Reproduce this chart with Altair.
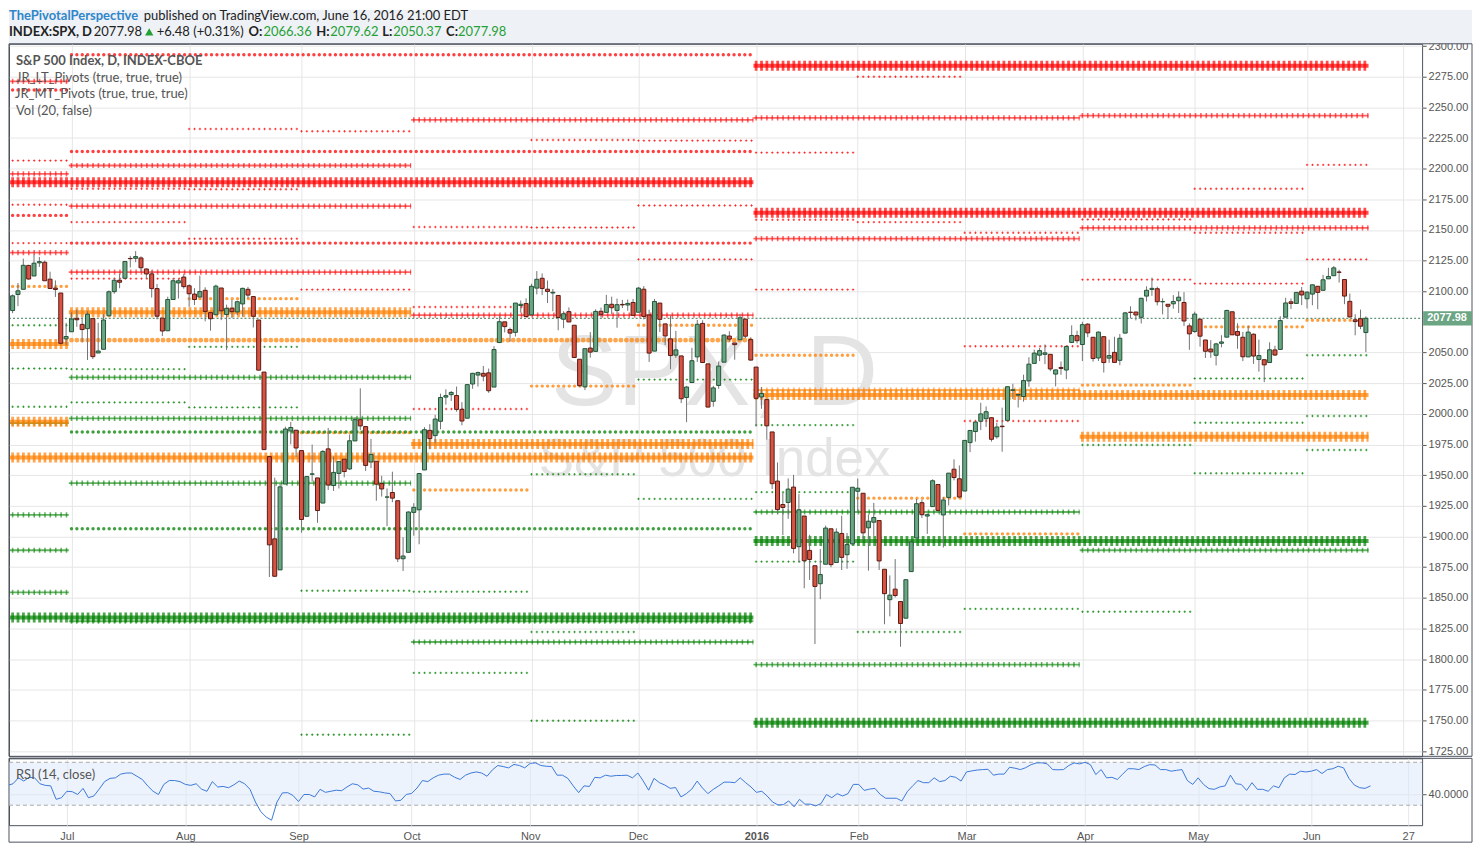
import altair as alt
import pandas as pd

# ---------------- layout constants (pixels) ----------------
W, H, HR = 1416, 714, 67
XMIN, XMAX = 0.256, 262.58
YMIN, YMAX = 1720.75, 2301.86
RMIN, RMAX = 11.4, 73.7
P = W / (XMAX - XMIN)          # pixels per bar

# ---------------- data ----------------
opens = [
 2084.3, 2097.4, 2101.6, 2121.1, 2112.5, 2123.2, 2123.7, 2109.9, 2102.6, 2098.6, 2061.2,
 2067.0, 2078.0, 2073.0, 2069.5, 2077.7, 2049.7, 2052.7, 2080.0, 2099.7, 2109.0, 2110.6, 2126.8, 2126.9, 2127.2, 2118.2, 2114.2, 2102.2, 2078.2, 2067.8, 2093.3, 2106.8, 2111.6,
 2104.5, 2097.7, 2095.3, 2100.8, 2082.6, 2080.9, 2102.7, 2081.1, 2086.2, 2083.2, 2089.7, 2101.6, 2095.7, 2076.6, 2034.1, 1965.2, 1898.1, 1872.8, 1942.8, 1986.1, 1986.7,
 1970.1, 1916.5, 1950.8, 1947.8, 1927.3, 1971.5, 1941.6, 1951.5, 1963.1, 1955.1, 1978.0, 1995.3, 1989.7, 1960.8, 1961.4, 1943.2, 1932.2, 1935.9, 1929.2, 1881.9, 1887.1,
 1919.7, 1921.8, 1954.3, 1986.6, 1982.3, 1994.0, 2013.7, 2015.7, 2015.0, 2003.7, 1996.5, 2024.4, 2031.7, 2033.1, 2033.5, 2021.9, 2058.2, 2075.1, 2068.8, 2066.5, 2088.4, 2090.0,
 2080.8, 2102.6, 2110.6, 2101.7, 2098.6, 2096.6, 2077.2, 2083.4, 2072.3, 2044.6, 2022.1, 2053.7, 2051.0, 2083.7, 2082.8, 2089.4, 2084.4, 2089.3, 2088.8, 2090.9,
 2082.9, 2101.7, 2080.7, 2051.2, 2090.4, 2073.4, 2061.2, 2047.9, 2047.3, 2013.4, 2025.6, 2046.5, 2073.8, 2040.8, 2010.3, 2023.2, 2042.2, 2063.5, 2057.8, 2060.5, 2077.3, 2060.6,
 2038.2, 2013.8, 2011.7, 1985.3, 1945.2, 1926.1, 1927.8, 1940.3, 1891.7, 1916.7, 1888.7, 1876.2, 1861.5, 1877.4, 1906.3, 1878.8, 1902.5, 1885.2, 1894.0,
 1936.9, 1935.3, 1907.1, 1911.7, 1913.1, 1873.3, 1848.5, 1857.1, 1847.0, 1833.4, 1871.4, 1898.8, 1927.6, 1916.7, 1924.4, 1942.4, 1917.6, 1931.9, 1954.9, 1947.1,
 1937.1, 1976.6, 1985.6, 1994.0, 1996.1, 1996.9, 1981.4, 1990.0, 1994.7, 2019.3, 2015.3, 2014.2, 2026.9, 2041.2, 2047.9, 2048.6, 2048.6, 2032.5, 2037.9, 2035.8, 2058.3, 2063.8,
 2056.6, 2073.2, 2062.5, 2045.6, 2063.0, 2045.5, 2050.2, 2043.7, 2065.9, 2082.9, 2083.1, 2078.8, 2096.1, 2101.5, 2102.1, 2091.5, 2089.4, 2089.8, 2092.3, 2090.9, 2071.8,
 2067.2, 2077.2, 2060.3, 2052.9, 2047.8, 2057.6, 2062.6, 2083.3, 2067.2, 2062.5, 2046.5, 2065.0, 2044.4, 2044.2, 2041.9, 2052.2, 2052.6, 2078.9, 2091.4, 2090.1, 2100.1,
 2093.9, 2097.7, 2104.1, 2100.8, 2110.2, 2112.7, 2115.7, 2109.6, 2091.8, 2076.7, 2077.6, 2066.36,
]
highs = [
 2097.4, 2106.8, 2126.6, 2121.6, 2129.9, 2128.0, 2125.1, 2116.0, 2108.9, 2098.6, 2074.3,
 2082.8, 2085.1, 2078.6, 2083.7, 2077.7, 2074.3, 2081.3, 2100.7, 2111.0, 2114.1, 2124.4, 2128.9, 2132.8, 2128.5, 2118.5, 2116.9, 2106.0, 2078.2, 2095.6, 2110.6, 2110.5, 2114.2,
 2105.7, 2102.5, 2112.7, 2103.3, 2082.6, 2105.4, 2102.7, 2089.1, 2092.9, 2092.4, 2102.9, 2103.5, 2096.2, 2076.6, 2034.1, 1965.2, 1948.0, 1943.1, 1989.6, 1993.5, 1986.7,
 1970.1, 1948.9, 1975.0, 1947.8, 1970.4, 1988.6, 1965.3, 1961.1, 1963.1, 1983.2, 1997.3, 2020.9, 1989.7, 1979.6, 1961.4, 1949.5, 1939.2, 1952.9, 1929.2, 1899.5, 1920.5,
 1927.2, 1951.4, 1989.2, 1991.6, 1999.3, 2016.5, 2020.1, 2018.7, 2022.3, 2009.6, 2024.2, 2033.5, 2034.5, 2039.1, 2037.0, 2055.2, 2079.7, 2075.1, 2070.4, 2090.4, 2092.5, 2094.3,
 2106.2, 2116.5, 2114.6, 2108.8, 2101.9, 2096.6, 2083.7, 2086.9, 2072.3, 2044.6, 2053.2, 2066.7, 2085.3, 2086.7, 2097.1, 2095.6, 2094.1, 2093.0, 2093.3, 2093.8,
 2103.4, 2104.3, 2085.0, 2093.8, 2090.4, 2073.4, 2080.3, 2067.7, 2047.3, 2022.9, 2053.9, 2076.7, 2076.4, 2040.8, 2022.9, 2042.7, 2064.7, 2067.4, 2057.8, 2081.6, 2077.3, 2062.5,
 2038.2, 2021.9, 2011.7, 1985.3, 1960.4, 1935.7, 1947.4, 1950.3, 1934.5, 1916.7, 1901.4, 1876.2, 1889.9, 1908.9, 1906.3, 1906.7, 1916.9, 1902.9, 1940.2,
 1947.2, 1935.3, 1918.0, 1927.4, 1913.1, 1873.3, 1868.3, 1881.6, 1847.0, 1864.8, 1895.8, 1930.7, 1930.0, 1918.8, 1946.7, 1942.4, 1932.1, 1951.8, 1962.9, 1958.0,
 1978.4, 1986.5, 1993.7, 2009.1, 2006.1, 1996.9, 1992.7, 2005.1, 2022.4, 2024.6, 2015.9, 2032.0, 2046.2, 2052.4, 2053.9, 2056.6, 2048.6, 2036.0, 2042.7, 2055.9, 2072.2, 2067.9,
 2075.1, 2074.0, 2062.5, 2067.3, 2063.0, 2060.6, 2062.9, 2065.1, 2083.2, 2087.8, 2083.2, 2094.7, 2104.1, 2111.1, 2103.8, 2094.3, 2089.4, 2096.9, 2099.9, 2099.3, 2073.9,
 2083.4, 2077.2, 2060.3, 2060.2, 2058.0, 2064.2, 2084.9, 2083.3, 2073.9, 2066.8, 2071.9, 2065.7, 2060.6, 2044.2, 2058.4, 2055.6, 2079.7, 2094.7, 2094.1, 2099.1, 2103.5,
 2100.0, 2105.3, 2104.1, 2113.4, 2119.2, 2120.6, 2117.6, 2109.6, 2098.1, 2081.3, 2085.1, 2079.62,
]
lows = [
 2082.1, 2087.9, 2101.6, 2109.5, 2112.5, 2119.9, 2108.6, 2101.8, 2095.4, 2056.6, 2056.3,
 2067.0, 2071.0, 2058.4, 2044.0, 2044.7, 2049.7, 2052.7, 2080.0, 2098.0, 2102.5, 2110.6, 2119.4, 2123.7, 2115.4, 2110.0, 2094.9, 2077.1, 2063.5, 2067.8, 2093.3, 2094.1, 2102.1,
 2087.3, 2088.8, 2095.3, 2075.5, 2067.9, 2080.9, 2076.5, 2052.1, 2078.3, 2080.6, 2079.3, 2094.1, 2070.5, 2035.7, 1970.9, 1867.0, 1867.1, 1872.8, 1942.8, 1975.2, 1965.0,
 1903.1, 1916.5, 1944.7, 1911.2, 1927.3, 1937.9, 1937.2, 1939.2, 1948.3, 1954.3, 1977.9, 1986.7, 1953.5, 1955.8, 1929.2, 1932.6, 1908.5, 1928.0, 1879.2, 1871.9, 1887.1,
 1900.7, 1893.7, 1954.3, 1971.2, 1976.4, 1987.5, 2007.6, 2010.6, 2001.8, 1990.7, 1996.5, 2020.5, 2022.3, 2026.6, 2017.2, 2021.9, 2058.2, 2066.5, 2058.8, 2063.1, 2082.6, 2079.3,
 2080.8, 2097.5, 2096.9, 2090.4, 2083.7, 2068.2, 2069.9, 2074.9, 2045.7, 2022.0, 2019.4, 2045.9, 2051.0, 2078.8, 2082.8, 2081.4, 2070.3, 2086.3, 2084.1, 2080.4,
 2082.9, 2077.1, 2042.4, 2051.2, 2066.8, 2056.2, 2036.5, 2045.7, 2008.8, 1993.3, 2025.6, 2042.4, 2041.7, 2005.3, 2005.9, 2020.5, 2042.2, 2058.7, 2044.2, 2060.5, 2061.9, 2043.6,
 1989.7, 2004.2, 1979.1, 1938.8, 1918.5, 1901.1, 1914.4, 1886.3, 1878.9, 1857.8, 1864.6, 1812.3, 1848.9, 1877.4, 1875.0, 1878.8, 1872.7, 1873.7, 1894.0,
 1920.3, 1897.3, 1872.2, 1900.5, 1872.7, 1828.5, 1834.9, 1850.3, 1810.1, 1833.4, 1871.4, 1898.8, 1915.1, 1902.2, 1924.4, 1919.4, 1891.0, 1925.4, 1945.8, 1931.8,
 1937.1, 1968.8, 1977.4, 1986.8, 1989.4, 1977.4, 1979.8, 1969.2, 1994.7, 2012.1, 2005.2, 2010.0, 2022.2, 2041.2, 2043.1, 2040.6, 2034.9, 2022.5, 2031.9, 2028.3, 2058.3, 2057.5,
 2043.1, 2062.6, 2042.6, 2043.1, 2033.8, 2041.7, 2041.9, 2039.7, 2065.9, 2078.1, 2076.3, 2073.7, 2091.7, 2096.3, 2088.5, 2081.2, 2077.5, 2085.8, 2082.3, 2071.6, 2052.3,
 2066.1, 2054.9, 2045.6, 2045.8, 2039.5, 2054.3, 2062.6, 2064.5, 2053.1, 2043.1, 2046.5, 2040.8, 2034.5, 2025.9, 2041.9, 2047.3, 2052.6, 2078.9, 2085.6, 2090.1, 2088.7,
 2086.0, 2088.6, 2085.4, 2100.8, 2110.2, 2112.7, 2107.1, 2089.5, 2078.5, 2064.1, 2069.1, 2050.37,
]
closes = [
 2096.3, 2100.4, 2121.2, 2110.0, 2122.9, 2124.2, 2108.6, 2102.3, 2101.5, 2057.6, 2063.1,
 2077.4, 2076.8, 2068.8, 2081.3, 2046.7, 2051.3, 2076.6, 2099.6, 2109.0, 2107.4, 2124.3, 2126.6, 2128.3, 2119.2, 2114.2, 2102.2, 2079.7, 2067.6, 2093.3, 2108.6, 2108.6, 2103.8,
 2098.0, 2093.3, 2099.8, 2083.6, 2077.6, 2104.2, 2084.1, 2086.1, 2083.4, 2091.5, 2102.4, 2096.9, 2079.6, 2035.7, 1970.9, 1893.2, 1867.6, 1940.5, 1987.7, 1988.9, 1972.2,
 1913.9, 1948.9, 1951.1, 1921.2, 1969.4, 1942.0, 1952.3, 1961.1, 1953.0, 1978.1, 1995.3, 1990.2, 1958.0, 1967.0, 1942.7, 1938.8, 1932.2, 1931.3, 1881.8, 1884.1, 1920.0,
 1923.8, 1951.4, 1987.1, 1979.9, 1995.8, 2013.4, 2014.9, 2017.5, 2003.7, 1994.2, 2023.9, 2033.1, 2033.7, 2030.8, 2018.9, 2052.5, 2075.2, 2071.2, 2065.9, 2090.4, 2089.4, 2079.4,
 2104.1, 2109.8, 2102.3, 2099.9, 2099.2, 2078.6, 2081.7, 2075.0, 2046.0, 2023.0, 2053.2, 2050.4, 2083.6, 2081.2, 2089.2, 2086.6, 2089.1, 2088.9, 2090.1, 2080.4,
 2102.6, 2079.5, 2049.6, 2091.7, 2077.1, 2063.6, 2047.6, 2052.2, 2012.4, 2021.9, 2043.4, 2073.1, 2041.9, 2005.6, 2021.2, 2039.0, 2064.3, 2061.0, 2056.5, 2078.4, 2063.4, 2043.9,
 2012.7, 2016.7, 1990.3, 1943.1, 1922.0, 1923.7, 1938.7, 1890.3, 1921.8, 1880.3, 1881.3, 1859.3, 1869.0, 1906.9, 1877.1, 1903.6, 1883.0, 1893.4, 1940.2,
 1939.4, 1903.0, 1912.5, 1915.5, 1880.1, 1853.4, 1852.2, 1851.9, 1829.1, 1864.8, 1895.6, 1926.8, 1917.8, 1917.8, 1945.5, 1921.3, 1929.8, 1951.7, 1948.1, 1932.2,
 1978.4, 1986.5, 1993.4, 2000.0, 2001.8, 1979.3, 1989.3, 1989.6, 2022.2, 2019.6, 2015.9, 2027.2, 2040.6, 2049.6, 2051.6, 2049.8, 2036.7, 2035.9, 2037.1, 2055.0, 2064.0, 2059.7,
 2072.8, 2066.1, 2045.2, 2066.7, 2041.9, 2047.6, 2042.0, 2061.7, 2082.4, 2082.8, 2080.7, 2094.3, 2100.8, 2102.4, 2091.5, 2091.6, 2087.8, 2091.7, 2095.2, 2075.8, 2065.3,
 2081.4, 2063.4, 2051.1, 2050.6, 2057.1, 2058.7, 2084.4, 2064.5, 2064.1, 2046.6, 2066.7, 2047.2, 2047.6, 2040.0, 2052.3, 2048.0, 2076.1, 2090.5, 2090.1, 2099.1, 2097.0,
 2099.3, 2105.3, 2099.1, 2109.4, 2112.1, 2119.1, 2115.5, 2096.1, 2079.1, 2075.3, 2071.5, 2077.98,
]
rsi = [
 48.5, 50, 55.5, 52.5, 56, 55.5, 50, 48.5, 48, 35.5, 37,
 43, 42.6, 40, 45.7, 37, 38.6, 45, 52, 55, 55.5, 59, 60, 60, 57, 54, 48, 43, 40, 49.4, 53, 53, 52,
 49.4, 48.5, 50, 45, 43, 52, 47, 47.5, 46.3, 49, 52.5, 50, 44.8, 33, 24, 19, 16, 33, 41.5, 41.7, 39,
 33.4, 40, 40, 37.7, 44.8, 42, 43, 44, 43.5, 47, 50, 49, 45, 46, 43, 42.5, 41.5, 40.8, 34, 34.6, 40,
 41, 46, 53, 52, 55.5, 58, 59, 59, 56, 54, 58, 60, 61, 60, 57, 63, 67, 66, 64.8, 68, 67, 64.8,
 69, 69.4, 67, 66.3, 66, 58, 58, 55, 48, 41.7, 48, 47.5, 56, 55.5, 58, 57, 57.7, 57.7, 58, 55.5,
 60, 52.5, 44, 55, 51, 48.8, 45.7, 46.5, 37.7, 40.8, 45, 52.5, 46, 40.8, 44.8, 48, 51.5, 51.5, 51, 55.5, 51, 47,
 42, 43, 38.6, 33, 30.3, 30.5, 34, 28.5, 35.5, 31, 31, 29.4, 31.5, 40, 37, 40.8, 38.6, 40.8, 49.4,
 49.4, 43.8, 45, 45.7, 40, 36.5, 36.5, 36.5, 34, 42.6, 48, 53, 51, 51, 55.5, 52, 53, 57, 56, 52.5,
 61, 62, 62.8, 63.2, 63.5, 58, 59, 59, 65.4, 64.5, 63.2, 65, 67.8, 69.4, 69.5, 68.5, 63.2, 63, 63.2, 67, 69.4, 68.5,
 70, 67.8, 58.6, 63.2, 55.5, 56, 54, 59, 64, 64, 63.2, 66, 67.8, 67.5, 63.2, 63.2, 61.7, 62.5, 63.2, 53, 49.4,
 55.5, 49.4, 45.5, 44.8, 47, 48, 58, 50, 49.4, 43.8, 51, 44.8, 44.8, 43, 48, 46.3, 55.5, 59, 58.6, 61.7, 61,
 61.7, 63.2, 59.5, 63.2, 64, 66.3, 64.8, 55, 48.8, 46.3, 45.7, 48,
]

tick_idx = [11, 33, 54, 75, 97, 117, 139, 158, 178, 200, 221, 242, 260]
tick_lab = ["Jul", "Aug", "Sep", "Oct", "Nov", "Dec", "2016", "Feb", "Mar", "Apr", "May", "Jun", "27"]
price_ticks = [1725, 1750, 1775, 1800, 1825, 1850, 1875, 1900, 1925, 1950, 1975, 2000, 2025,
               2050, 2100, 2125, 2150, 2175, 2200, 2225, 2250, 2275, 2300]

# bar-index ranges of the pivot periods
PERIODS = {
    'Jun15': (0, 10), 'Jul15': (11, 32), 'Aug15': (33, 53), 'Sep15': (54, 74), 'Oct15': (75, 96),
    'Nov15': (97, 116), 'Dec15': (117, 138), 'Jan16': (139, 157), 'Feb16': (158, 177),
    'Mar16': (178, 199), 'Apr16': (200, 220), 'May16': (221, 241), 'Jun16': (242, 253),
    'Q3': (11, 74), 'Q4': (75, 138), 'Q1': (139, 199), 'Q2': (200, 253),
    'H2': (11, 138), 'H2x': (0, 138), 'H1': (139, 253),
}

red_pivots = [
 ('Jun15', 2271.2, 'cross'), ('Jun15', 2264.2, 'dot'), ('Jun15', 2206.6, 'thin'), ('Jun15', 2195.8, 'cross'),
 ('Jun15', 2170.6, 'thin'), ('Jun15', 2161.9, 'dot'), ('Jun15', 2139.3, 'thin'), ('Jun15', 2131.5, 'cross'),
 ('H2x', 2189.0, 'thick'),
 ('H2', 2292.9, 'dot'), ('H2', 2214.0, 'dot'), ('H2', 2139.3, 'dot'),
 ('Q3', 2202.6, 'cross'), ('Q3', 2169.4, 'cross'), ('Q3', 2115.7, 'cross'),
 ('Q4', 2239.8, 'cross'), ('Q4', 2080.5, 'cross'),
 ('Jul15', 2183.6, 'thin'), ('Jul15', 2156.4, 'thin'), ('Jul15', 2110.3, 'thin'),
 ('Aug15', 2232.4, 'thin'), ('Aug15', 2183.2, 'thin'), ('Aug15', 2142.9, 'thin'),
 ('Sep15', 2230.5, 'thin'), ('Sep15', 2101.4, 'thin'),
 ('Oct15', 2152.4, 'thin'), ('Oct15', 2087.2, 'thin'), ('Oct15', 2004.0, 'thin'),
 ('Nov15', 2223.4, 'thin'), ('Nov15', 2152.0, 'thin'),
 ('Dec15', 2222.9, 'thin'), ('Dec15', 2170.0, 'thin'), ('Dec15', 2126.0, 'thin'),
 ('H1', 2284.0, 'thick'), ('H1', 2164.0, 'thick'),
 ('Q1', 2241.4, 'cross'), ('Q1', 2142.9, 'cross'),
 ('Q2', 2243.3, 'cross'), ('Q2', 2151.8, 'cross'),
 ('Jan16', 2213.1, 'thin'), ('Jan16', 2158.3, 'thin'), ('Jan16', 2101.4, 'thin'),
 ('Feb16', 2275.0, 'thin'), ('Feb16', 2156.4, 'thin'),
 ('Mar16', 2147.7, 'thin'), ('Mar16', 2055.2, 'thin'), ('Mar16', 1994.2, 'thin'),
 ('Apr16', 2158.6, 'thin'), ('Apr16', 2109.5, 'thin'),
 ('May16', 2183.6, 'thin'), ('May16', 2147.7, 'thin'), ('May16', 2106.3, 'thin'),
 ('Jun16', 2203.1, 'thin'), ('Jun16', 2126.0, 'thin'),
]
orange_pivots = [
 ('Jun15', 2104.0, 'dot'), ('Jun15', 2057.0, 'thick'), ('Jun15', 1993.6, 'thick'),
 ('H2x', 1964.5, 'thick'), ('H2', 2060.1, 'dotL'),
 ('Q3', 2083.0, 'thick'), ('Q4', 1975.5, 'thick'),
 ('Aug15', 2094.0, 'dot'), ('Sep15', 1984.7, 'dot'), ('Oct15', 1938.0, 'dot'),
 ('Nov15', 2022.7, 'dot'), ('Dec15', 2072.3, 'dot'),
 ('H1', 2015.5, 'thick'), ('Q1', 2019.5, 'cross'), ('Q2', 1981.4, 'thick'),
 ('Jan16', 2047.9, 'dot'), ('Feb16', 1931.3, 'dot'), ('Mar16', 1902.2, 'dot'),
 ('Apr16', 2023.5, 'dot'), ('May16', 2071.0, 'dot'), ('Jun16', 2076.4, 'dot'),
]
green_pivots = [
 ('Jun15', 2072.3, 'thin'), ('Jun15', 2037.0, 'thin'), ('Jun15', 2005.8, 'thin'), ('Jun15', 1992.5, 'cross'),
 ('Jun15', 1917.7, 'cross'), ('Jun15', 1888.8, 'cross'), ('Jun15', 1854.4, 'cross'),
 ('H2x', 1834.0, 'thick'),
 ('H2', 1985.2, 'dot'), ('H2', 1906.3, 'dot'), ('H2', 1830.9, 'cross'),
 ('Q3', 2029.8, 'cross'), ('Q3', 1996.3, 'cross'), ('Q3', 1943.5, 'cross'),
 ('Q4', 1814.0, 'cross'),
 ('Jul15', 2036.5, 'thin'), ('Jul15', 2009.4, 'thin'),
 ('Aug15', 2054.7, 'thin'), ('Aug15', 2005.3, 'thin'),
 ('Sep15', 1855.8, 'thin'), ('Sep15', 1738.4, 'thin'),
 ('Oct15', 1855.0, 'thin'), ('Oct15', 1788.8, 'thin'),
 ('Nov15', 1950.8, 'thin'), ('Nov15', 1822.2, 'thin'), ('Nov15', 1749.8, 'thin'),
 ('Dec15', 2028.0, 'thin'), ('Dec15', 1930.7, 'thin'),
 ('H1', 1896.3, 'thick'), ('H1', 1748.2, 'thick'),
 ('Q1', 1920.0, 'cross'), ('Q1', 1795.6, 'cross'),
 ('Q2', 1888.8, 'cross'),
 ('Jan16', 1990.9, 'thin'), ('Jan16', 1936.2, 'thin'), ('Jan16', 1879.5, 'thin'),
 ('Feb16', 1822.2, 'thin'),
 ('Mar16', 1841.0, 'thin'),
 ('Apr16', 1974.7, 'thin'), ('Apr16', 1838.7, 'thin'),
 ('May16', 2028.9, 'thin'), ('May16', 1992.8, 'thin'), ('May16', 1951.6, 'thin'),
 ('Jun16', 2047.9, 'thin'), ('Jun16', 1998.3, 'thin'), ('Jun16', 1970.6, 'thin'),
]

# ---------------- tables ----------------
n = min(len(opens), len(highs), len(lows), len(closes))
bars = pd.DataFrame({'i': list(range(n)), 'o': opens[:n], 'h': highs[:n], 'l': lows[:n], 'c': closes[:n]})
bars['dir'] = ['up' if c >= o else 'down' for o, c in zip(bars['o'], bars['c'])]
last = bars.tail(1).reset_index(drop=True)
rsi_df = pd.DataFrame({'i': list(range(len(rsi))), 'r': rsi})

rows = []
for colname, lst in (('red', red_pivots), ('orange', orange_pivots), ('green', green_pivots)):
    for per, price, sty in lst:
        s, e = PERIODS[per]
        rows.append({'s0': s - 0.5, 'e1': e + 0.5, 'p': price, 'col': colname, 'sty': sty})
piv = pd.DataFrame(rows)
one = pd.DataFrame({'k': [0]})

# ---------------- scales / axes ----------------
LBL = dict(labelColor='#555555', labelFont='Liberation Sans', labelFontSize=11)
xscale = alt.Scale(domain=[XMIN, XMAX], nice=False, zero=False)
yscale = alt.Scale(domain=[YMIN, YMAX], nice=False, zero=False)
rscale = alt.Scale(domain=[RMIN, RMAX], nice=False, zero=False)
xaxis = alt.Axis(values=tick_idx, grid=True, gridColor='#e6e6e6', labels=False, ticks=False,
                 domain=False, title=None)
yaxis = alt.Axis(orient='right', values=price_ticks, format='.2f', grid=True,
                 gridColor='#e6e6e6', tickColor='#555555', tickSize=4, labelPadding=2,
                 domain=False, title=None, labelOverlap=False, labelFlush=False, **LBL)
expr = " : ".join(f"datum.value == {v} ? '{l}'" for v, l in zip(tick_idx, tick_lab)) + " : ''"
rxaxis = alt.Axis(values=tick_idx, labelExpr=expr, grid=True, gridColor='#e6e6e6', ticks=False,
                  domain=False, title=None, labelPadding=5, labelFlush=False, labelOverlap=False,
                  labelFontWeight={'condition': {'test': 'datum.value == 139', 'value': 'bold'},
                                   'value': 'normal'},
                  **LBL)
ryaxis = alt.Axis(orient='right', values=[40], format='.4f', grid=True, gridColor='#e6e6e6',
                  tickColor='#555555', tickSize=4, labelPadding=2, domain=False, title=None, **LBL)


def X(f):
    return alt.X(f, type='quantitative', scale=xscale, axis=xaxis)


def Y(f):
    return alt.Y(f, type='quantitative', scale=yscale, axis=yaxis)


def RX(f):
    return alt.X(f, type='quantitative', scale=xscale, axis=rxaxis)


def RY(f):
    return alt.Y(f, type='quantitative', scale=rscale, axis=ryaxis)


pcolor = alt.Color('col:N', scale=alt.Scale(domain=['red', 'orange', 'green'],
                                            range=['#ff0000', '#ff7f00', '#008000']), legend=None)


def piv_layer(sty, width, dash=None, cap=None, opacity=0.7):
    kw = dict(strokeWidth=width, opacity=opacity, clip=True)
    if dash is not None:
        kw['strokeDash'] = dash
        kw['strokeDashOffset'] = P / 2 + dash[0] / 2
    if cap is not None:
        kw['strokeCap'] = cap
    return (alt.Chart(piv).transform_filter(alt.datum.sty == sty).mark_rule(**kw)
            .encode(x=X('s0:Q'), x2='e1:Q', y=Y('p:Q'), color=pcolor))


def txt(s, x, y, size=13, weight='normal', color='#555555', font='Lato', align='left'):
    return (alt.Chart(one).mark_text(text=s, font=font, fontSize=size, fontWeight=weight,
                                     color=color, align=align, baseline='alphabetic')
            .encode(x=alt.value(x), y=alt.value(y)))


# ---------------- main panel ----------------
HY1, HY2 = -24, -7.5
layers = [
    alt.Chart(one).mark_rect(color='#eef1f6').encode(
        x=alt.value(0), x2=alt.value(W + 50), y=alt.value(-34), y2=alt.value(0)),
    alt.Chart(one).mark_rect(fillOpacity=0, stroke='#4c525e', strokeWidth=1).encode(
        x=alt.value(0), x2=alt.value(W + 50), y=alt.value(0), y2=alt.value(H)),
    txt('SPX, D', 707, 362, size=100, color='#e4e4e4', font='Liberation Sans', align='center'),
    txt('S&P 500 Index', 707, 433, size=53, color='#e4e4e4', font='Liberation Sans', align='center'),
    # pivots
    piv_layer('thin', 0.9, [2.4, P - 2.4], opacity=0.75),
    piv_layer('thin', 2.4, [0.9, P - 0.9], opacity=0.75),
    piv_layer('dot', 3.4, [0.01, P - 0.01], cap='round', opacity=0.75),
    piv_layer('dotL', 4.8, [0.01, P - 0.01], cap='round', opacity=0.7),
    piv_layer('cross', 1.8, opacity=0.6),
    piv_layer('cross', 5.2, [1.6, P - 1.6], opacity=0.6),
    piv_layer('thick', 4, opacity=0.7),
    piv_layer('thick', 10, [2.8, P - 2.8], opacity=0.7),
    # last price line
    alt.Chart(last).mark_rule(strokeDash=[2, 2], color='#3d7a58', strokeWidth=1).encode(
        x=alt.value(0), x2=alt.value(W), y=Y('c:Q')),
    # candles
    alt.Chart(bars).mark_rule(color='#737375', strokeWidth=1, clip=True).encode(
        x=X('i:Q'), y=Y('l:Q'), y2='h:Q'),
    alt.Chart(bars).mark_bar(size=4, strokeWidth=1, clip=True).encode(
        x=X('i:Q'), y=Y('o:Q'), y2='c:Q',
        fill=alt.Fill('dir:N', scale=alt.Scale(domain=['up', 'down'], range=['#6ba583', '#d75442']), legend=None),
        stroke=alt.Stroke('dir:N', scale=alt.Scale(domain=['up', 'down'], range=['#225437', '#5b1a13']), legend=None)),
    # price label on axis
    alt.Chart(last).transform_calculate(hi='datum.c + 5.8', lo='datum.c - 5.8').mark_rect(color='#6ba583').encode(
        x=alt.value(W + 1), x2=alt.value(W + 50), y=Y('hi:Q'), y2='lo:Q'),
    alt.Chart(last).mark_text(color='white', font='Liberation Sans', fontSize=11, fontWeight='bold',
                              align='center', baseline='middle').encode(
        x=alt.value(W + 25), y=Y('c:Q'), text=alt.Text('c:Q', format='.2f')),
    # legend texts
    txt('S&P 500 Index, D, INDEX-CBOE', 7, 21.5, weight='bold'),
    txt('JR_LT_Pivots (true, true, true)', 7, 38),
    txt('JR_MT_Pivots (true, true, true)', 6, 54.5),
    txt('Vol (20, false)', 7, 71),
    # header
    txt('ThePivotalPerspective', 0, HY1, weight='bold', color='#2f86c9'),
    txt('published on TradingView.com, June 16, 2016 21:00 EDT', 135, HY1, color='#222222'),
    txt('INDEX:SPX, D', 0, HY2, weight='bold', color='#222222'),
    txt('2077.98', 85, HY2, color='#222222'),
    alt.Chart(one).mark_point(shape='triangle-up', filled=True, color='#25a035', size=70, opacity=1).encode(
        x=alt.value(140.5), y=alt.value(HY2 - 4.5)),
    txt('+6.48 (+0.31%)', 148, HY2, color='#222222'),
    txt('O:', 240, HY2, weight='bold', color='#222222'),
    txt('2066.36', 255, HY2, color='#25a035'),
    txt('H:', 308, HY2, weight='bold', color='#222222'),
    txt('2079.62', 322, HY2, color='#25a035'),
    txt('L:', 374, HY2, weight='bold', color='#222222'),
    txt('2050.37', 385, HY2, color='#25a035'),
    txt('C:', 438, HY2, weight='bold', color='#222222'),
    txt('2077.98', 450, HY2, color='#25a035'),
]
main = alt.layer(*layers).properties(width=W, height=H)

# ---------------- RSI panel ----------------
rsi_layers = [
    alt.Chart(one).mark_rect(fillOpacity=0, stroke='#4c525e', strokeWidth=1).encode(
        x=alt.value(0), x2=alt.value(W + 50), y=alt.value(0), y2=alt.value(HR + 17)),
    alt.Chart(pd.DataFrame({'lo': [30], 'hi': [70]})).mark_rect(color='#dfe9fb', opacity=0.55).encode(
        x=alt.value(0), x2=alt.value(W), y=RY('lo:Q'), y2='hi:Q'),
    alt.Chart(pd.DataFrame({'lv': [30, 70]})).mark_rule(strokeDash=[4, 3], color='#aaaaaa', strokeWidth=1).encode(
        x=alt.value(0), x2=alt.value(W), y=RY('lv:Q')),
    alt.Chart(rsi_df).mark_line(color='#3c78d8', strokeWidth=1, clip=True).encode(
        x=RX('i:Q'), y=RY('r:Q')),
    txt('RSI (14, close)', 7, 21),
]
rsi_chart = alt.layer(*rsi_layers).properties(width=W, height=HR)

chart = (alt.vconcat(main, rsi_chart, spacing=0, padding=0, background='white')
         .configure_view(stroke='#4c525e', strokeWidth=1))

chart.save("out.html", embed_options={"renderer": "svg", "actions": False})
